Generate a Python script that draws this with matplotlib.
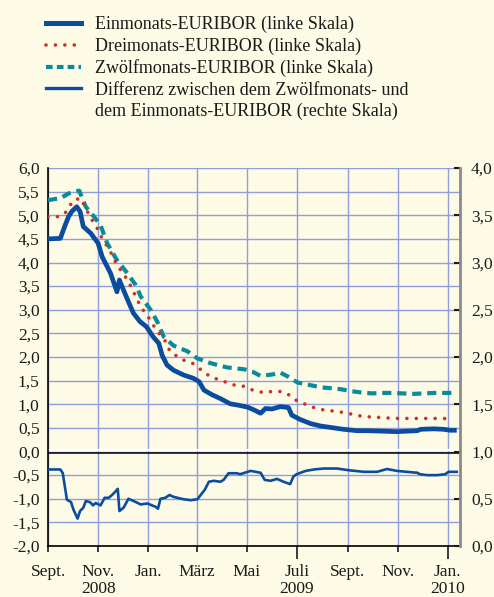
import numpy as np
import pandas as pd
import matplotlib
matplotlib.use("Agg")
import matplotlib.pyplot as plt
from matplotlib.lines import Line2D

# days since 1 Sept 2008, rates in percent
days_1m = [0, 15, 20, 25, 29, 35, 39, 43, 52, 61, 66, 76, 84, 87, 90, 96, 104, 112, 120, 128, 135, 139, 145,
           153, 165, 177, 184, 190, 200, 210, 222, 232, 243, 251, 259, 265, 273, 283, 293, 297, 307, 320,
           332, 344, 360, 377, 389, 409, 425, 437, 450, 454, 470, 482, 490, 498]
rate_1m = [4.50, 4.51, 4.75, 4.97, 5.08, 5.18, 5.08, 4.76, 4.62, 4.41, 4.12, 3.78, 3.38, 3.63, 3.50, 3.25,
           2.93, 2.75, 2.64, 2.43, 2.29, 2.04, 1.83, 1.72, 1.62, 1.55, 1.48, 1.30, 1.20, 1.12, 1.01, 0.98,
           0.94, 0.88, 0.81, 0.91, 0.90, 0.95, 0.93, 0.77, 0.68, 0.59, 0.54, 0.51, 0.47, 0.44, 0.44, 0.43,
           0.42, 0.43, 0.44, 0.47, 0.48, 0.47, 0.45, 0.45]

days_3m = [0, 13, 21, 31, 40, 44, 52, 58, 66, 76, 84, 97, 105, 113, 121, 127, 133, 141, 149, 164, 176, 184,
           198, 210, 226, 237, 246, 255, 263, 273, 283, 292, 299, 308, 318, 327, 336, 346, 355, 365, 375,
           385, 395, 405, 423, 442, 462, 481, 492]
rate_3m = [4.97, 4.97, 5.05, 5.32, 5.36, 5.22, 4.94, 4.79, 4.51, 4.23, 3.95, 3.63, 3.35, 3.06, 2.88, 2.71,
           2.54, 2.40, 2.11, 1.94, 1.87, 1.76, 1.58, 1.51, 1.41, 1.39, 1.32, 1.27, 1.25, 1.27, 1.27, 1.22,
           1.11, 1.04, 0.97, 0.91, 0.88, 0.86, 0.84, 0.81, 0.77, 0.74, 0.73, 0.72, 0.70, 0.70, 0.70, 0.70,
           0.69]

days_12m = [0, 15, 25, 38, 46, 56, 64, 72, 84, 95, 107, 113, 125, 133, 141, 153, 170, 182, 198, 218, 239,
            249, 259, 273, 283, 293, 304, 318, 332, 344, 356, 369, 381, 395, 407, 419, 431, 446, 458, 472,
            484, 496]
rate_12m = [5.32, 5.36, 5.46, 5.52, 5.18, 4.97, 4.79, 4.41, 4.05, 3.81, 3.52, 3.28, 3.00, 2.75, 2.43, 2.24,
            2.12, 1.97, 1.87, 1.78, 1.74, 1.69, 1.60, 1.63, 1.67, 1.58, 1.46, 1.41, 1.36, 1.34, 1.32, 1.28,
            1.25, 1.23, 1.24, 1.24, 1.23, 1.22, 1.23, 1.24, 1.24, 1.24]

# spread 12M - 1M in percentage points (right scale)
days_diff = [0, 15, 18, 23, 28, 31, 36, 39, 43, 46, 51, 55, 58, 64, 69, 74, 78, 82, 85, 87, 92, 98, 107,
             113, 121, 131, 134, 137, 143, 148, 153, 165, 174, 182, 186, 191, 196, 202, 210, 214, 220, 230,
             234, 247, 259, 264, 271, 279, 287, 295, 299, 303, 314, 324, 336, 352, 368, 385, 401, 413, 425,
             437, 450, 453, 462, 474, 484, 488, 498]
spread = [0.81, 0.81, 0.77, 0.49, 0.465, 0.385, 0.29, 0.37, 0.405, 0.475, 0.465, 0.43, 0.455, 0.43, 0.51,
          0.51, 0.54, 0.575, 0.605, 0.37, 0.405, 0.50, 0.465, 0.44, 0.45, 0.415, 0.395, 0.50, 0.51, 0.54,
          0.52, 0.495, 0.485, 0.495, 0.54, 0.595, 0.68, 0.69, 0.68, 0.70, 0.77, 0.77, 0.76, 0.795, 0.775,
          0.70, 0.69, 0.71, 0.68, 0.655, 0.735, 0.76, 0.795, 0.81, 0.82, 0.82, 0.80, 0.785, 0.785, 0.815,
          0.795, 0.785, 0.775, 0.76, 0.75, 0.75, 0.76, 0.785, 0.785]

month_labels = ["Sept.", "Nov.\n2008", "Jan.", "März", "Mai", "Juli\n2009", "Sept.", "Nov.", "Jan.\n2010"]
left_ticks = np.arange(-2.0, 6.01, 0.5)
right_ticks = np.arange(0.0, 4.01, 0.5)

bg = "#fdfbe6"
grid_col = "#8f9fdc"
blue = "#0b4c9f"
red = "#cc3128"
teal = "#0a8b9b"

plt.rcParams["font.family"] = ["Liberation Serif", "DejaVu Serif"]
plt.rcParams["font.size"] = 12.5

start = pd.Timestamp("2008-09-01")
months = pd.date_range("2008-09-01", "2010-01-01", freq="2MS")
month_pos = [(m - start).days for m in months]

fig = plt.figure(figsize=(4.94, 5.97), dpi=100, facecolor=bg)
ax = fig.add_axes([0.0972, 0.0854, 0.8340, 0.6332])
ax.set_facecolor(bg)

ax.plot(days_12m, rate_12m, color=teal, lw=3.0, linestyle=(0, (2.2, 1.4)), zorder=3)
ax.plot(days_3m, rate_3m, color=red, lw=2.6, linestyle=(0, (0.01, 2.6)), dash_capstyle="round", zorder=3)
ax.plot(days_1m, rate_1m, color=blue, lw=3.4, solid_capstyle="butt", zorder=4)

ax.set_xlim(0, 502)
ax.set_ylim(-2, 6)
ax.set_yticks(left_ticks)
ax.set_yticklabels([f"{v:.1f}".replace(".", ",") for v in left_ticks])
ax.set_xticks(month_pos)
ax.set_xticklabels(month_labels, linespacing=1.05)
ax.grid(True, color=grid_col, lw=1.0)
ax.tick_params(axis="y", length=0, pad=6, colors="#1a1a1a")
ax.tick_params(axis="x", length=4, width=1.2, direction="out", pad=9, colors="#1a1a1a")
for i, t in enumerate(ax.xaxis.get_major_ticks()):
    if "\n20" in month_labels[i] and i > 1:
        t.tick1line.set_markersize(9)
ax.axhline(0.04, color="white", lw=1.6, zorder=2)
ax.axhline(-0.03, color="black", lw=1.1, zorder=2)
for s in ["top", "right"]:
    ax.spines[s].set_visible(False)
ax.spines["left"].set_color("black")
ax.spines["left"].set_linewidth(1.2)
ax.spines["bottom"].set_color("black")
ax.spines["bottom"].set_linewidth(1.2)

ax2 = ax.twinx()
ax2.plot(days_diff, spread, color=blue, lw=1.9, zorder=4)
ax2.set_ylim(0, 4)
ax2.set_yticks(right_ticks)
ax2.set_yticklabels([f"{v:.1f}".replace(".", ",") for v in right_ticks])
ax2.tick_params(axis="y", direction="in", length=4, width=1.5, pad=8, colors="#1a1a1a")
for s in ["top", "left", "bottom"]:
    ax2.spines[s].set_visible(False)
ax2.spines["right"].set_color("#8a8a8a")
ax2.spines["right"].set_linewidth(2.0)

handles = [
    Line2D([], [], color=blue, lw=3.6),
    Line2D([], [], color=red, lw=2.6, linestyle=(0, (0.01, 2.6)), dash_capstyle="round"),
    Line2D([], [], color=teal, lw=3.0, linestyle=(0, (1.6, 1.0))),
    Line2D([], [], color=blue, lw=2.4),
    Line2D([], [], color="none", lw=0),
]
labels = [
    "Einmonats-EURIBOR (linke Skala)",
    "Dreimonats-EURIBOR (linke Skala)",
    "Zwölfmonats-EURIBOR (linke Skala)",
    "Differenz zwischen dem Zwölfmonats- und",
    "dem Einmonats-EURIBOR (rechte Skala)",
]
fig.legend(handles, labels, loc="upper left", bbox_to_anchor=(0.093, 0.973), frameon=False,
           handlelength=1.95, handletextpad=0.75, labelspacing=0.24, borderpad=0, borderaxespad=0,
           fontsize=13, labelcolor="#1a1a1a")

fig.savefig("out.png", dpi=100, facecolor=bg)
